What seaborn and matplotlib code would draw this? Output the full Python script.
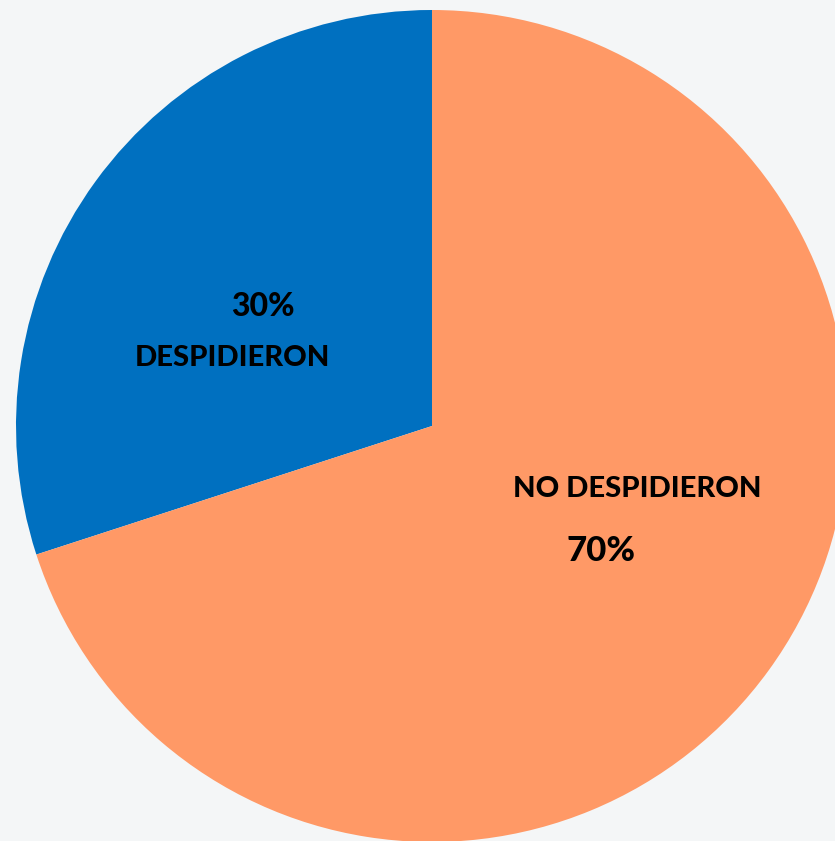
import matplotlib
matplotlib.use('Agg')
import matplotlib.pyplot as plt
import seaborn as sns

# --- data ---
labels = ['DESPIDIERON', 'NO DESPIDIERON']
values = [30, 70]
colors = ['#0070C0', '#FF9966']

sns.set_theme(style='white')
plt.rcParams['font.family'] = ['Lato', 'DejaVu Sans']

W, H = 835, 841
cx, cy, r = 432, 426, 416  # pixel centre and radius of the pie

fig = plt.figure(figsize=(W / 100, H / 100), dpi=100)
fig.patch.set_facecolor('#f4f6f7')
ax = fig.add_axes([0, 0, 1, 1])
ax.set_facecolor('#f4f6f7')

ax.pie(values, colors=colors, startangle=90, counterclock=True,
       wedgeprops=dict(linewidth=0))

ax.set_aspect('auto')
ax.set_xlim(-cx / r, (W - cx) / r)
ax.set_ylim(-(H - cy) / r, cy / r)
ax.axis('off')


def px(x, y):
    return (x - cx) / r, (cy - y) / r


ax.text(*px(263, 307), f'{values[0]}%', ha='center', va='center',
        fontsize=23, fontweight='black', color='black')
ax.text(*px(232, 358), labels[0], ha='center', va='center',
        fontsize=21, fontweight='black', color='black')
ax.text(*px(637, 489), labels[1], ha='center', va='center',
        fontsize=21, fontweight='black', color='black')
ax.text(*px(601, 551), f'{values[1]}%', ha='center', va='center',
        fontsize=25, fontweight='black', color='black')

fig.savefig('out.png', dpi=100, facecolor=fig.get_facecolor())
